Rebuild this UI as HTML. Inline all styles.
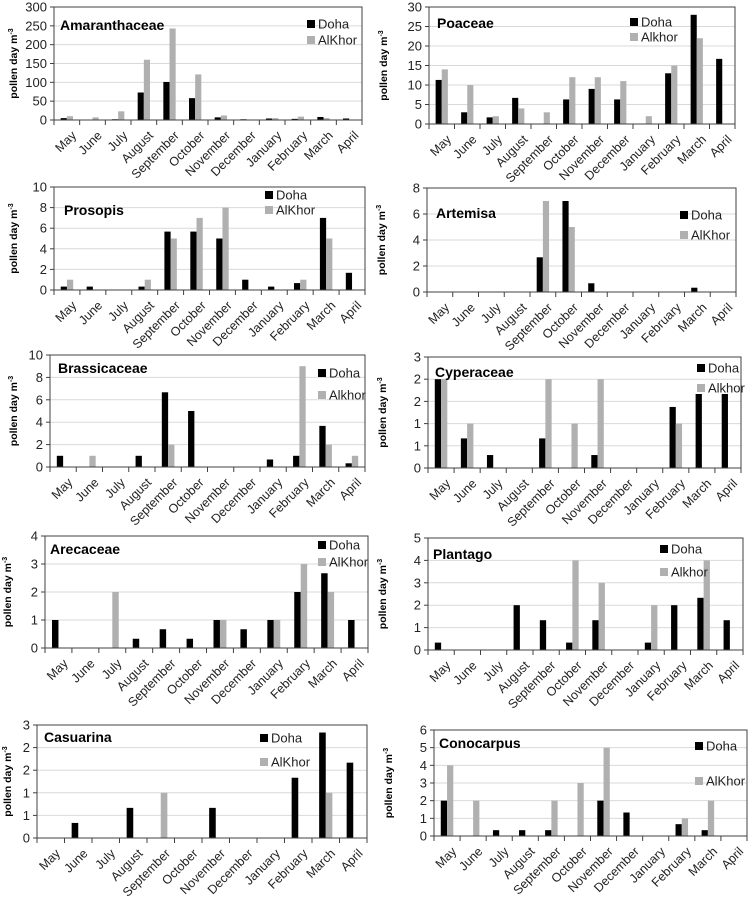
<!DOCTYPE html>
<html><head><meta charset="utf-8"><style>
body{margin:0;background:#fff;}
svg{display:block;font-family:"Liberation Sans",sans-serif;}
</style></head><body>
<svg id="fig" width="750" height="898" viewBox="0 0 750 898"></svg>
<script>
const months = ["May","June","July","August","September","October","November","December","January","February","March","April"];

const amaDoha = [5,0,2,73,101,58,7,2,4,3,8,4];
const amaAlkhor = [10,7,23,160,243,121,12,1,5,9,5,0];
const amaTicks = ["0","50","100","150","200","250","300"];

const poaDoha = [11.3,3,1.7,6.7,0,6.3,9,6.3,0,13,28,16.7];
const poaAlkhor = [14,10,2,4,3,12,12,11,2,15,22,0];
const poaTicks = ["0","5","10","15","20","25","30"];

const proDoha = [0.33,0.33,0,0.33,5.67,5.67,5,1,0.33,0.67,7,1.67];
const proAlkhor = [1,0,0,1,5,7,8,0,0,1,5,0];
const proTicks = ["0","2","4","6","8","10"];

const artDoha = [0,0,0,0,2.67,7,0.67,0,0,0,0.33,0];
const artAlkhor = [0,0,0,0,7,5,0,0,0,0,0,0];
const artTicks = ["0","2","4","6","8"];

const braDoha = [1,0,0,1,6.67,5,0,0,0.67,1,3.67,0.33];
const braAlkhor = [0,1,0,0,2,0,0,0,0,9,2,1];
const braTicks = ["0","2","4","6","8","10"];

const cypDoha = [2.4,0.8,0.35,0,0.8,0,0.35,0,0,1.65,2.0,2.0];
const cypAlkhor = [2.4,1.2,0,0,2.4,1.2,2.4,0,0,1.2,0,0];
const cypTicks = ["0","1","1","2","2","3"];

const areDoha = [1,0,0,0.33,0.67,0.33,1,0.67,1,2,2.67,1];
const areAlkhor = [0,0,2,0,0,0,1,0,1,3,2,0];
const areTicks = ["0","1","2","3","4"];

const plaDoha = [0.33,0,0,2,1.33,0.33,1.33,0,0.33,2,2.33,1.33];
const plaAlkhor = [0,0,0,0,0,4,3,0,2,0,4,0];
const plaTicks = ["0","1","2","3","4","5"];

const casDoha = [0,0.4,0,0.8,0,0,0.8,0,0,1.6,2.8,2.0];
const casAlkhor = [0,0,0,0,1.2,0,0,0,0,0,1.2,0];
const casTicks = ["0","1","1","2","2","3"];

const conDoha = [2,0,0.33,0.33,0.33,0,2,1.33,0,0.67,0.33,0];
const conAlkhor = [4,2,0,0,2,3,5,0,0,1,2,0];
const conTicks = ["0","1","2","3","4","5","6"];

const panels = [
 {id:"amaranthaceae",title:"Amaranthaceae",alk:"AlKhor",d:amaDoha,a:amaAlkhor,t:amaTicks,max:300,x0:54,x1:362,y0:7,y1:120,tx:60,ty:30,lx:307,ly:24,ly2:40},
 {id:"poaceae",title:"Poaceae",alk:"Alkhor",d:poaDoha,a:poaAlkhor,t:poaTicks,max:30,x0:429,x1:735,y0:7,y1:124,tx:437,ty:28,lx:630,ly:22,ly2:37},
 {id:"prosopis",title:"Prosopis",alk:"AlKhor",d:proDoha,a:proAlkhor,t:proTicks,max:10,x0:54,x1:365,y0:187,y1:290,tx:64,ty:215,lx:265,ly:195,ly2:210},
 {id:"artemisa",title:"Artemisa",alk:"AlKhor",d:artDoha,a:artAlkhor,t:artTicks,max:8,x0:427,x1:736,y0:188,y1:292,tx:436,ty:218,lx:680,ly:215,ly2:235},
 {id:"brassicaceae",title:"Brassicaceae",alk:"Alkhor",d:braDoha,a:braAlkhor,t:braTicks,max:10,x0:50,x1:365,y0:355,y1:467,tx:58,ty:373,lx:318,ly:373,ly2:395},
 {id:"cyperaceae",title:"Cyperaceae",alk:"Alkhor",d:cypDoha,a:cypAlkhor,t:cypTicks,max:3,x0:428,x1:741,y0:357,y1:468,tx:435,ty:377,lx:697,ly:368,ly2:388},
 {id:"arecaceae",title:"Arecaceae",alk:"AlKhor",d:areDoha,a:areAlkhor,t:areTicks,max:4,x0:45,x1:368,y0:536,y1:648,tx:50,ty:554,lx:318,ly:545,ly2:562},
 {id:"plantago",title:"Plantago",alk:"Alkhor",d:plaDoha,a:plaAlkhor,t:plaTicks,max:5,x0:428,x1:743,y0:538,y1:650,tx:433,ty:559,lx:660,ly:549,ly2:572},
 {id:"casuarina",title:"Casuarina",alk:"AlKhor",d:casDoha,a:casAlkhor,t:casTicks,max:3,x0:37,x1:367,y0:725,y1:838,tx:44,ty:742,lx:260,ly:738,ly2:762},
 {id:"conocarpus",title:"Conocarpus",alk:"AlKhor",d:conDoha,a:conAlkhor,t:conTicks,max:6,x0:434,x1:747,y0:730,y1:836,tx:439,ty:748,lx:695,ly:746,ly2:781}
];

const NS="http://www.w3.org/2000/svg";
const svg=document.getElementById("fig");
function mk(tag,attrs,parent,text){
  const e=document.createElementNS(NS,tag);
  for(const k in attrs) e.setAttribute(k,attrs[k]);
  if(text!==undefined) e.textContent=text;
  parent.appendChild(e); return e;
}

panels.forEach(p=>{
  const g=mk("g",{},svg);
  
  
  const n=months.length, cw=(p.x1-p.x0)/n;
  const yS=v=>p.y1-(v/p.max)*(p.y1-p.y0);
  const xC=i=>p.x0+cw*(i+0.5);
  const nt=p.t.length;
  // gridlines + y tick labels
  for(let k=0;k<nt;k++){
    const v=p.max*k/(nt-1), y=yS(v);
    if(k>0&&k<nt-1){const gl=mk("line",{x1:p.x0,x2:p.x1,y1:y,y2:y,stroke:"#d9d9d9","stroke-width":1},g);
      
      }
    mk("line",{x1:p.x0-4,x2:p.x0,y1:y,y2:y,stroke:"#404040","stroke-width":1},g);
    const tl=mk("text",{x:p.x0-7,y:y+4.5,"text-anchor":"end","font-size":13,fill:"#222"},g,p.t[k]);
    
    
  }
  // bars
  const bw=cw*0.24;
  for(let i=0;i<n;i++){
    if(p.d[i]>0){const b=mk("rect",{x:xC(i)-bw,y:yS(p.d[i]),width:bw,height:p.y1-yS(p.d[i]),fill:"#000"},g);
      
      }
    if(p.a[i]>0){const b=mk("rect",{x:xC(i),y:yS(p.a[i]),width:bw,height:p.y1-yS(p.a[i]),fill:"#b0b0b0"},g);
      
      }
  }
  // frame
  const fr=mk("rect",{x:p.x0,y:p.y0,width:p.x1-p.x0,height:p.y1-p.y0,fill:"none",stroke:"#404040","stroke-width":1},g);
  
  
  // x ticks and labels
  for(let i=0;i<=n;i++){
    const x=p.x0+cw*i;
    mk("line",{x1:x,x2:x,y1:p.y1,y2:p.y1+5,stroke:"#404040","stroke-width":1},g);
  }
  for(let i=0;i<n;i++){
    const x=xC(i)+4, y=p.y1+10;
    const xl=mk("text",{x:x,y:y,"text-anchor":"end","font-size":12.5,fill:"#222",transform:`rotate(-45 ${x} ${y})`,dy:"0.7em"},g,months[i]);
    
    
  }
  // y axis title
  const yc=(p.y0+p.y1)/2, yx=p.x0<200? (p.x0>45?17:11):(p.x0-42);
  const yt=mk("text",{x:yx,y:yc,"text-anchor":"middle","font-size":10.5,"font-weight":"bold",fill:"#000",transform:`rotate(-90 ${yx} ${yc})`},g);
  
  
  yt.appendChild(document.createTextNode("pollen day m"));
  mk("tspan",{"font-size":7,dy:-4},yt,"-3");
  // title
  const tt=mk("text",{x:p.tx,y:p.ty,"font-size":14,"font-weight":"bold",fill:"#000"},g,p.title);
  
  
  // legend
  const l1=mk("g",{},g);
  
  
  mk("rect",{x:p.lx,y:p.ly-4,width:8,height:8,fill:"#000"},l1);
  mk("text",{x:p.lx+11,y:p.ly+4.5,"font-size":13,fill:"#222"},l1,"Doha");
  const l2=mk("g",{},g);
  
  
  mk("rect",{x:p.lx,y:p.ly2-4,width:8,height:8,fill:"#b0b0b0"},l2);
  mk("text",{x:p.lx+11,y:p.ly2+4.5,"font-size":13,fill:"#222"},l2,p.alk);
});
</script>
</body></html>
